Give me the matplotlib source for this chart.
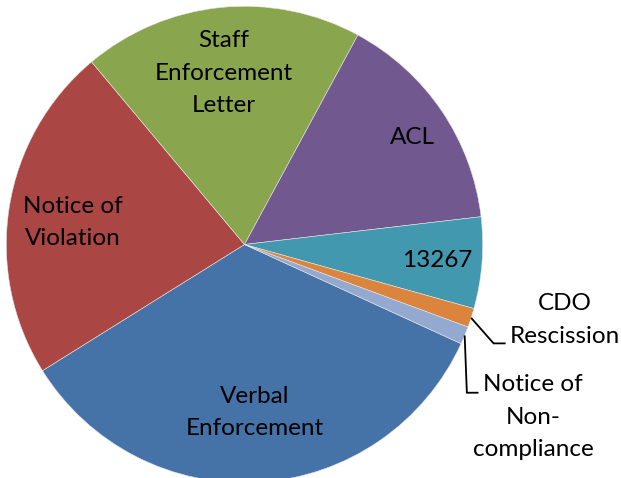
import matplotlib
matplotlib.use("Agg")
import matplotlib.pyplot as plt
import numpy as np

# Data (share of enforcement actions, %)
categories = ["Verbal\nEnforcement", "Notice of\nViolation", "Staff\nEnforcement\nLetter",
              "ACL", "13267", "CDO\nRescission", "Notice of\nNon-\ncompliance"]
values = [34.3, 22.8, 19.0, 15.25, 6.2, 1.3, 1.2]
colors = ["#4572A7", "#AA4643", "#89A54E", "#71588F", "#4198AF", "#DB843D", "#93A9CF"]

W, H = 621, 478
fig = plt.figure(figsize=(W / 100, H / 100), dpi=100)
ax = fig.add_axes([0, 0, 1, 1])

cx, cy, R = 244.5, H - 244.5, 238.2
wedges, _ = ax.pie(values, colors=colors, startangle=-24.6, counterclock=False,
                   center=(cx, cy), radius=R, frame=True,
                   wedgeprops=dict(edgecolor="#e6e6e6", linewidth=0.4))
ax.set_xlim(0, W)
ax.set_ylim(0, H)
ax.set_aspect("equal")
ax.axis("off")

FONT = dict(family=["Lato", "DejaVu Sans"], fontsize=17.5, color="black",
            ha="center", va="center")
PITCH = 32.3  # pixel distance between text lines


def block(x, y, text):
    lines = text.split("\n")
    n = len(lines)
    for k, line in enumerate(lines):
        ax.text(x, y + ((n - 1) / 2 - k) * PITCH, line, **FONT)


# Inside labels: (radius fraction, angle offset in degrees)
inside = {0: (0.706, -0.1), 1: (0.725, 1.75), 2: (0.725, 1.25), 3: (0.838, -1.65),
          4: (0.812, -0.25)}
for i, (fr, off) in inside.items():
    w = wedges[i]
    mid = np.deg2rad((w.theta1 + w.theta2) / 2 + off)
    block(cx + fr * R * np.cos(mid), cy + fr * R * np.sin(mid), categories[i])


# Outside labels with leader lines
def edge_point(i):
    w = wedges[i]
    mid = np.deg2rad((w.theta1 + w.theta2) / 2)
    return cx + R * np.cos(mid), cy + R * np.sin(mid)


x0, y0 = edge_point(5)
ax.plot([x0, x0 + 22.5, x0 + 34.5], [y0, y0 - 25.5, y0 - 25.5], color="black", lw=1.3,
        solid_joinstyle="miter", solid_capstyle="butt")
block(x0 + 93.6, y0 - 2.2, categories[5])

x0, y0 = edge_point(6)
ax.plot([x0, x0 + 2.2, x0 + 13.8], [y0, y0 - 57.3, y0 - 57.3], color="black", lw=1.3,
        solid_joinstyle="miter", solid_capstyle="butt")
block(x0 + 68.5, y0 - 81.6, categories[6])

# Title (mostly cropped off the top of the image)
fig.text(192 / W, 1 + 6.5 / H, "Type", family=["DejaVu Sans"], fontsize=21,
         fontweight="bold", ha="left", va="baseline")

fig.savefig("out.png", dpi=100)
